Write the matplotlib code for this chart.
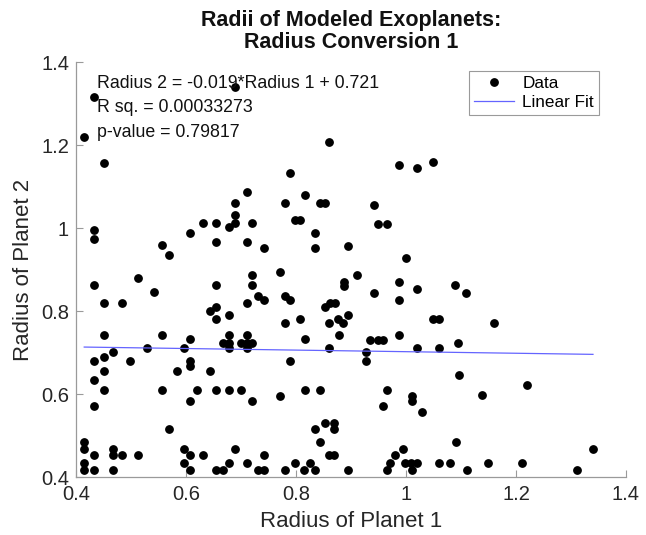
import numpy as np
import matplotlib
matplotlib.use('Agg')
import matplotlib.pyplot as plt
from matplotlib.ticker import FuncFormatter

plt.rcParams['font.family'] = ['Liberation Sans', 'DejaVu Sans']

# radius of planet 1 / radius of planet 2
radius_1 = [0.689, 0.433, 0.415, 0.451, 0.711, 0.689, 0.860, 0.789, 0.987, 1.020,
            1.049, 0.816, 0.780, 0.844, 0.853, 0.942, 0.689, 0.631, 0.655, 0.678,
            0.689, 0.720, 0.433, 0.433, 0.607, 0.655, 0.711, 0.742, 0.556, 0.569,
            0.720, 0.513, 0.433, 0.655, 0.720, 0.542, 0.731, 0.742, 0.451, 0.484,
            0.711, 0.655, 0.644, 0.678, 0.655, 0.451, 0.556, 0.678, 0.711, 0.607,
            0.667, 0.678, 0.700, 0.711, 0.720, 0.678, 0.711, 0.529, 0.596, 0.467,
            0.451, 0.433, 0.498, 0.607, 0.607, 0.451, 0.584, 0.644, 0.433, 0.451,
            0.556, 0.620, 0.655, 0.678, 0.700, 0.607, 0.720, 0.433, 0.569, 0.415,
            0.415, 0.467, 0.596, 0.689, 0.433, 0.467, 0.484, 0.513, 0.607, 0.631,
            0.742, 0.415, 0.596, 0.678, 0.711, 0.415, 0.433, 0.467, 0.607, 0.655,
            0.667, 0.731, 0.742, 0.798, 0.807, 0.949, 0.966, 0.835, 0.835, 0.895,
            1.000, 0.771, 0.911, 0.887, 0.887, 0.987, 1.089, 1.020, 0.942, 0.780,
            0.789, 0.987, 0.853, 0.862, 0.871, 0.895, 0.807, 0.876, 0.885, 0.780,
            0.860, 1.049, 1.060, 0.816, 0.878, 0.987, 0.935, 0.949, 0.958, 1.095,
            0.860, 0.927, 1.020, 1.060, 0.789, 0.927, 1.096, 0.771, 0.816, 0.844,
            0.966, 1.011, 1.011, 0.958, 1.029, 0.853, 0.869, 0.869, 0.835, 0.844,
            1.091, 0.995, 0.860, 0.869, 0.980, 0.798, 0.826, 0.971, 0.998, 1.009,
            1.020, 1.060, 1.080, 0.780, 0.815, 0.835, 0.895, 0.966, 1.011, 1.138,
            1.220, 1.340, 1.149, 1.211, 1.111, 1.311, 1.109, 1.160]
radius_2 = [1.340, 1.316, 1.219, 1.157, 1.087, 1.060, 1.207, 1.133, 1.152, 1.145,
            1.159, 1.080, 1.060, 1.060, 1.060, 1.055, 1.031, 1.012, 1.012, 1.002,
            1.012, 1.012, 0.995, 0.974, 0.988, 0.966, 0.966, 0.952, 0.959, 0.935,
            0.887, 0.880, 0.863, 0.863, 0.863, 0.846, 0.836, 0.827, 0.819, 0.819,
            0.819, 0.810, 0.800, 0.790, 0.781, 0.742, 0.742, 0.742, 0.742, 0.733,
            0.723, 0.723, 0.723, 0.723, 0.723, 0.711, 0.711, 0.711, 0.711, 0.701,
            0.689, 0.680, 0.680, 0.680, 0.668, 0.655, 0.655, 0.655, 0.634, 0.610,
            0.610, 0.610, 0.610, 0.610, 0.610, 0.583, 0.583, 0.571, 0.516, 0.484,
            0.468, 0.468, 0.468, 0.468, 0.453, 0.453, 0.453, 0.453, 0.453, 0.453,
            0.453, 0.434, 0.434, 0.434, 0.434, 0.417, 0.417, 0.417, 0.417, 0.417,
            0.417, 0.417, 0.417, 1.019, 1.019, 1.010, 1.010, 0.988, 0.952, 0.957,
            0.928, 0.894, 0.887, 0.870, 0.860, 0.870, 0.863, 0.853, 0.843, 0.836,
            0.827, 0.827, 0.810, 0.819, 0.819, 0.790, 0.781, 0.781, 0.771, 0.771,
            0.771, 0.781, 0.781, 0.733, 0.742, 0.742, 0.730, 0.730, 0.730, 0.723,
            0.711, 0.701, 0.711, 0.711, 0.680, 0.680, 0.646, 0.595, 0.610, 0.610,
            0.610, 0.595, 0.583, 0.571, 0.557, 0.530, 0.530, 0.516, 0.516, 0.484,
            0.484, 0.468, 0.453, 0.453, 0.453, 0.434, 0.434, 0.434, 0.434, 0.434,
            0.434, 0.434, 0.434, 0.417, 0.417, 0.417, 0.417, 0.417, 0.417, 0.598,
            0.622, 0.468, 0.434, 0.434, 0.417, 0.417, 0.843, 0.771]

# fit reported on the plot
slope = -0.019
intercept = 0.721
r_sq = '0.00033273'
p_value = '0.79817'

x_ticks = [0.4, 0.6, 0.8, 1.0, 1.2, 1.4]
y_ticks = [0.4, 0.6, 0.8, 1.0, 1.2, 1.4]

r1 = np.array(radius_1)
r2 = np.array(radius_2)
xfit = np.array([r1.min(), r1.max()])
yfit = slope*xfit + intercept

fig = plt.figure(figsize=(6.46, 5.35), dpi=100)
ax = fig.add_axes([0.1176, 0.1084, 0.8514, 0.7757])

ax.plot(r1, r2, 'o', color='k', markersize=5.3, linestyle='none', label='Data')
ax.plot(xfit, yfit, '-', color='#6464ff', lw=0.9, label='Linear Fit')

ax.set_xlim(0.4, 1.4)
ax.set_ylim(0.4, 1.4)
ax.set_xticks(x_ticks)
ax.set_yticks(y_ticks)
fmt = FuncFormatter(lambda v, p: '%g' % round(v, 2))
ax.xaxis.set_major_formatter(fmt)
ax.yaxis.set_major_formatter(fmt)
ax.tick_params(direction='in', length=5, width=0.8, color='#9a9a9a',
               labelsize=14.5, labelcolor='#262626')
ax.tick_params(axis='x', pad=6)
ax.tick_params(axis='y', pad=5)
for s in ['top', 'right']:
  ax.spines[s].set_visible(False)
for s in ['left', 'bottom']:
  ax.spines[s].set_color('#9a9a9a')
  ax.spines[s].set_linewidth(0.9)

ax.set_xlabel('Radius of Planet 1', fontsize=16, color='#262626', labelpad=5)
ax.set_ylabel('Radius of Planet 2', fontsize=16, color='#262626', labelpad=5)
ax.set_title('Radii of Modeled Exoplanets:\nRadius Conversion 1', fontsize=15.5,
             fontweight='bold', color='#111111', pad=10, linespacing=1.05)

ax.text(0.438, 1.349, 'Radius 2 = %.3f*Radius 1 + %.3f' % (slope, intercept),
        fontsize=12.8, va='center', color='#111111')
ax.text(0.438, 1.290, 'R sq. = ' + r_sq, fontsize=12.8, va='center', color='#111111')
ax.text(0.438, 1.229, 'p-value = ' + p_value, fontsize=12.8, va='center', color='#111111')

leg = ax.legend(loc='upper right', bbox_to_anchor=(0.951, 0.978), fontsize=12.3,
                fancybox=False, framealpha=1, edgecolor='#9a9a9a',
                handlelength=2.3, borderpad=0.3, labelspacing=0.2, handletextpad=0.5,
                borderaxespad=0)
leg.get_frame().set_linewidth(0.8)

fig.savefig('out.png', dpi=100)
